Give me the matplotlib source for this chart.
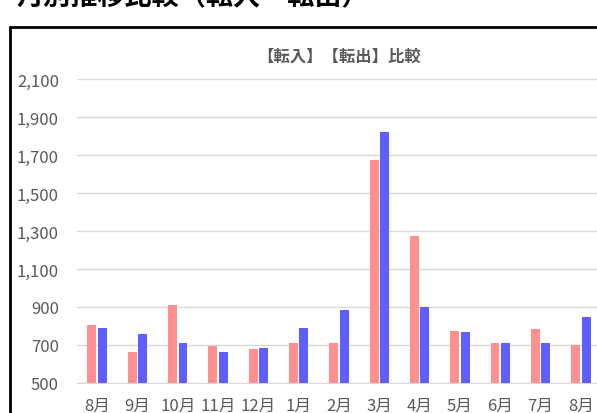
import matplotlib
matplotlib.use("Agg")
import matplotlib.pyplot as plt
from matplotlib.patches import Rectangle
import numpy as np

plt.rcParams['font.family'] = ['Noto Sans CJK JP', 'DejaVu Sans']

months = ["8月", "9月", "10月", "11月", "12月", "1月", "2月",
          "3月", "4月", "5月", "6月", "7月", "8月"]
tennyu = [805, 664, 908, 696, 679, 708, 708, 1676, 1274, 775, 713, 782, 700]
tenshutsu = [788, 758, 712, 664, 684, 788, 884, 1819, 901, 770, 713, 713, 845]
yticks = [500, 700, 900, 1100, 1300, 1500, 1700, 1900, 2100]

W, H = 597, 414
fig = plt.figure(figsize=(W / 100, H / 100), dpi=100)

# page heading, cut off at the top edge
fig.text(16 / W, 1 - 4 / H, "月別推移比較（転入・転出）", fontsize=19.5,
         fontweight='bold', color='black', ha='left', va='baseline')

# chart frame
fig.patches.append(Rectangle((10 / W, -0.1), 1.0, 1 - 28 / H + 0.1,
                             transform=fig.transFigure, fill=False,
                             edgecolor='black', linewidth=2))

ax = fig.add_axes([77 / W, (H - 384) / H, 524 / W, (384 - 80) / H])
x = np.arange(len(months))
w = 0.22
ax.bar(x - 0.13, tennyu, width=w, color='#FF9090', zorder=3)
ax.bar(x + 0.13, tenshutsu, width=w, color='#5F5FFF', zorder=3)

ax.set_xlim(-0.5, len(months) - 0.5)
ax.set_ylim(500, 2100)
ax.set_yticks(yticks)
ax.set_yticklabels([f"{v:,}" for v in yticks])
ax.set_xticks(x)
ax.set_xticklabels(months)
ax.grid(axis='y', color='#D9D9D9', linewidth=1, zorder=0)
for s in ['top', 'right', 'left']:
    ax.spines[s].set_visible(False)
ax.spines['bottom'].set_color('#D9D9D9')
ax.tick_params(axis='both', length=0, colors='#595959', labelsize=12)
ax.tick_params(axis='y', pad=13)
ax.tick_params(axis='x', pad=10)

fig.text(339 / W, 1 - 57 / H, "【転入】【転出】比較", fontsize=11.8,
         fontweight='bold', color='#595959', ha='center', va='center')

fig.savefig("out.png", dpi=100)
